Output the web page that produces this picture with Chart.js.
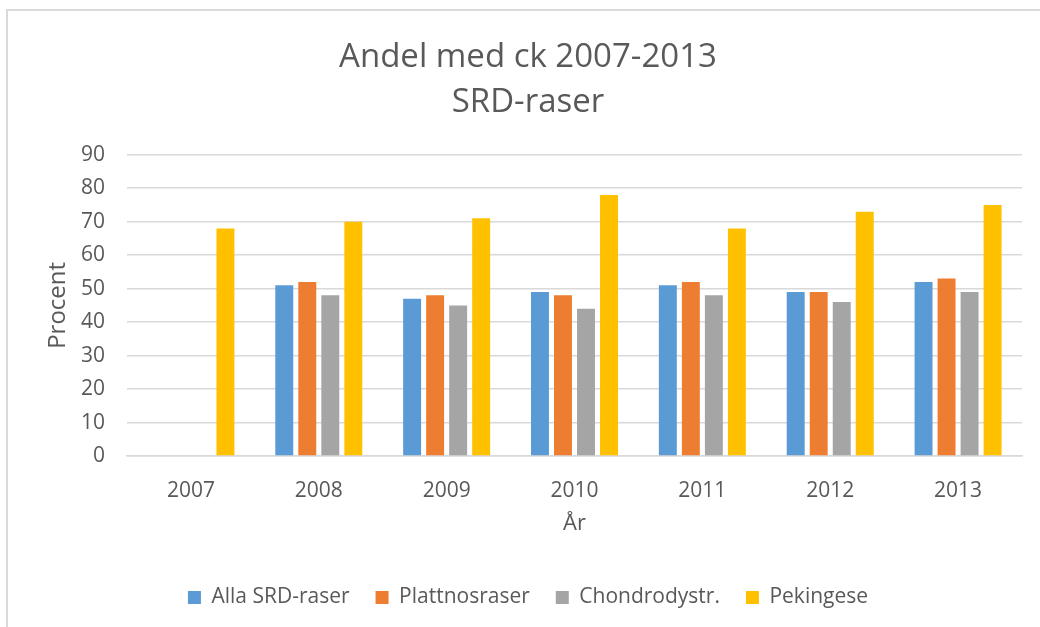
<!DOCTYPE html>
<html>
<head>
<meta charset="utf-8">
<script src="https://cdn.jsdelivr.net/npm/chart.js@4"></script>
<style>
  html, body { margin: 0; padding: 0; background: #fff; }
  #ram {
    position: absolute; left: 6px; top: 9px;
    width: 1032px; height: 616px;
    border-left: 2px solid #d9d9d9; border-top: 2px solid #d9d9d9;
  }
</style>
</head>
<body>
<div id="ram"><canvas id="stapel" width="1032" height="616"></canvas></div>
<script>
'use strict';

// år på x-axeln
const ar = ['2007', '2008', '2009', '2010', '2011', '2012', '2013'];

// andel med ck (procent) per grupp, 2007 saknas för de tre första
const allaSrd = [null, 51, 47, 49, 51, 49, 52];
const plattnos = [null, 52, 48, 48, 52, 49, 53];
const chondro = [null, 48, 45, 44, 48, 46, 49];
const pekingese = [68, 70, 71, 78, 68, 73, 75];

const textFarg = '#595959';
const typsnitt = "'Open Sans', sans-serif";

const stapel = document.getElementById('stapel');
const stapelChart = new Chart(stapel, {
    type: 'bar',
    data: {
        labels: ar,
        datasets: [
            { label: 'Alla SRD-raser', data: allaSrd, backgroundColor: '#5B9BD5' },
            { label: 'Plattnosraser', data: plattnos, backgroundColor: '#ED7D31' },
            { label: 'Chondrodystr.', data: chondro, backgroundColor: '#A5A5A5' },
            { label: 'Pekingese', data: pekingese, backgroundColor: '#FFC000' }
        ]
    },
    options: {
        responsive: false,
        animation: false,
        categoryPercentage: 0.72,
        barPercentage: 0.78,
        layout: { padding: { left: 8, right: 0, top: 0, bottom: 9 } },
        plugins: {
            tooltip: { enabled: false },
            title: {
                display: true,
                text: ['Andel med ck 2007-2013', 'SRD-raser'],
                color: textFarg,
                font: { family: typsnitt, size: 33, weight: 'normal', lineHeight: 1.36 },
                padding: { top: 24, bottom: 30 }
            },
            legend: {
                position: 'bottom',
                labels: {
                    color: textFarg,
                    font: { family: typsnitt, size: 21 },
                    boxWidth: 13,
                    boxHeight: 13,
                    padding: 26
                }
            }
        },
        scales: {
            x: {
                grid: { display: false },
                border: { color: '#d9d9d9', width: 1.5 },
                ticks: { color: textFarg, font: { family: typsnitt, size: 21 }, padding: 14 },
                title: {
                    display: true, text: 'År', color: textFarg,
                    font: { family: typsnitt, size: 22 },
                    padding: { top: 0, bottom: 24 }
                },
                afterFit: function (skala) { skala.height = 105; }
            },
            y: {
                min: 0,
                max: 90,
                grid: { color: '#d9d9d9', lineWidth: 1.5, drawTicks: false },
                border: { display: false },
                ticks: { stepSize: 10, color: textFarg, font: { family: typsnitt, size: 21 }, padding: 22 },
                title: {
                    display: true, text: 'Procent', color: textFarg,
                    font: { family: typsnitt, size: 24 },
                    padding: { top: 28, bottom: 0 }
                },
                afterFit: function (skala) { skala.width = 111; }
            },
            // tom axel till höger, bara för marginalen
            hoger: {
                position: 'right',
                grid: { display: false },
                border: { display: false },
                ticks: { display: false },
                afterFit: function (skala) { skala.width = 18; }
            }
        }
    }
});
</script>
</body>
</html>
